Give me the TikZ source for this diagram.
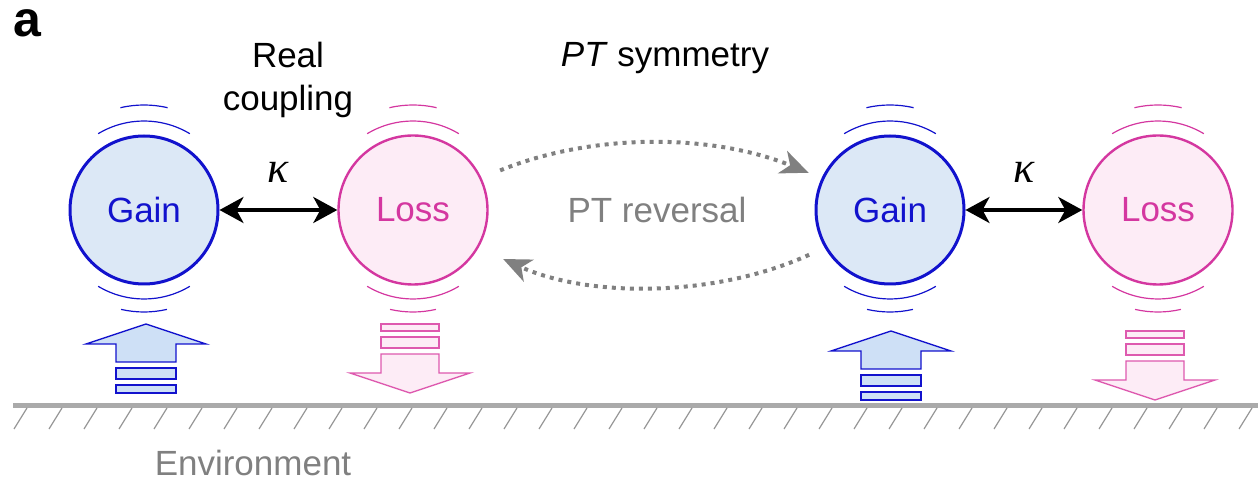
\documentclass[tikz,border=0pt]{standalone}
\usepackage{fontspec}
\setmainfont{Liberation Sans}
\newfontfamily\kapfont{Liberation Serif}
\usetikzlibrary{arrows.meta}
\definecolor{gainblue}{RGB}{18,18,205}
\definecolor{gainfill}{RGB}{220,232,246}
\definecolor{gainarrow}{RGB}{206,224,246}
\definecolor{lossmag}{RGB}{212,55,160}
\definecolor{losspale}{RGB}{222,90,175}
\definecolor{lossfill}{RGB}{253,236,246}
\definecolor{revgray}{RGB}{128,128,128}
\definecolor{groundgray}{RGB}{170,170,170}
\definecolor{hatchgray}{RGB}{150,150,150}

\begin{document}
\begin{tikzpicture}[x=1pt,y=1pt,
  every node/.style={font=\fontsize{35}{43}\selectfont},
  gain/.style={circle,draw=gainblue,line width=3pt,fill=gainfill,text=gainblue,minimum size=148pt,inner sep=0pt},
  loss/.style={circle,draw=lossmag,line width=2.4pt,fill=lossfill,text=lossmag,minimum size=149pt,inner sep=0pt},
  coupling/.style={line width=3.5pt,{Stealth[length=24pt,width=26pt,inset=7pt]}-{Stealth[length=24pt,width=26pt,inset=7pt]}},
  kap/.style={above=26pt,inner sep=0pt,font=\fontsize{44}{44}\selectfont\kapfont\itshape},
  reversal/.style={revgray,line width=4pt,dash pattern=on 4pt off 5pt,-{Stealth[length=28pt,width=24pt,inset=8pt]}},
  pumpup/.style={draw=gainblue,fill=gainarrow,line width=1.3pt},
  pumpdown/.style={draw=losspale,fill=lossfill,line width=1.3pt}]
\useasboundingbox (0,0) rectangle (1258,482);

% resonators
\node[gain] (g1) at (144,272) {Gain};
\node[loss] (l1) at (413,272) {Loss};
\node[gain] (g2) at (890,272) {Gain};
\node[loss] (l2) at (1158,272) {Loss};

% ripples round each resonator
\foreach \n/\col in {g1/gainblue,l1/lossmag,g2/gainblue,l2/lossmag} {
  \draw[\col,line width=1.2pt] ([shift={(59:89)}]\n.center) arc[start angle=59,end angle=121,radius=89];
  \draw[\col,line width=1.2pt] ([shift={(77:105)}]\n.center) arc[start angle=77,end angle=103,radius=105];
  \draw[\col,line width=1.2pt] ([shift={(239:89)}]\n.center) arc[start angle=239,end angle=301,radius=89];
  \draw[\col,line width=1.2pt] ([shift={(257:102)}]\n.center) arc[start angle=257,end angle=283,radius=102];
}

% coupling
\draw[coupling] (g1) -- node[kap] (k1) {κ} (l1);
\draw[coupling] (g2) -- node[kap] (k2) {κ} (l2);

% PT reversal
\draw[reversal,shorten <=20pt,shorten >=14pt] (l1.25) .. controls +(110,45) and +(-110,45) .. (g2.155);
\draw[reversal,shorten <=17pt,shorten >=27pt] (g2.210) .. controls +(-110,-50) and +(110,-50) .. (l1.330);
\node[revgray] (rev) at (657,272) {PT reversal};

% gain pumping, up
\foreach \x/\y in {146/0,891/-7} {
  \begin{scope}[shift={(\x,\y)}]
    \draw[pumpup] (-30,120) -- (-30,138) -- (-60,138) -- (0,158) -- (60,138) -- (30,138) -- (30,120) -- cycle;
    \draw[pumpup] (-30,103) rectangle (30,114);
    \draw[pumpup] (-30,89) rectangle (30,97);
  \end{scope}
}

% loss leaking, down
\foreach \x/\y in {410/0,1155/-7} {
  \begin{scope}[shift={(\x,\y)}]
    \draw[pumpdown] (-29,151) rectangle (29,158);
    \draw[pumpdown] (-29,134) rectangle (29,145);
    \draw[pumpdown] (-29,128) -- (-29,109) -- (-60,109) -- (0,89) -- (60,109) -- (29,109) -- (29,128) -- cycle;
  \end{scope}
}

% environment
\draw[groundgray,line width=5pt] (13,76.5) -- (1258,76.5);
\foreach \i in {0,...,35}
  \draw[hatchgray,line width=1.2pt] ({27+35*\i},74) -- ++(-13,-21);
\node[revgray,anchor=base,inner sep=0pt] (env) at (253,7) {Environment};

% labels
\node[anchor=base,inner sep=0pt,font=\fontsize{50}{50}\selectfont\bfseries] (lab) at (27,445) {a};
\node[anchor=north,align=center,inner sep=0pt] (coup) at (288,440) {Real\\coupling};
\node[anchor=base,inner sep=0pt] (sym) at (665,415) {\textit{PT} symmetry};
\end{tikzpicture}
\end{document}
